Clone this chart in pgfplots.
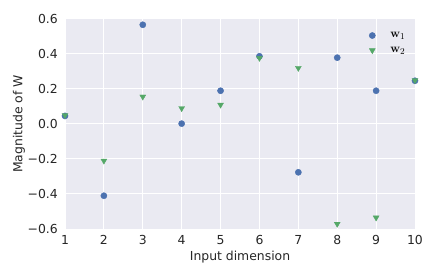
\documentclass[border=0pt]{standalone}
\usepackage[no-math]{fontspec}
\setmainfont{DejaVu Sans}
\usepackage{pgfplots}
\pgfplotsset{compat=1.18}
\definecolor{sbblue}{HTML}{4C72B0}
\definecolor{sbgreen}{HTML}{55A868}
\definecolor{sbbg}{HTML}{EAEAF2}
\definecolor{sbtext}{HTML}{262626}
\begin{document}
\begin{tikzpicture}
\useasboundingbox (-65pt,-49pt) rectangle (371pt,229pt);
\begin{axis}[
  at={(0pt,0pt)}, anchor=south west,
  scale only axis, width=350pt, height=210pt,
  xmin=1, xmax=10, ymin=-0.6, ymax=0.6,
  clip=true,
  axis background/.style={fill=sbbg},
  axis line style={draw=none},
  major tick length=0pt,
  grid=major, major grid style={white, line width=1pt},
  xtick={1,2,3,4,5,6,7,8,9,10},
  xticklabels={1,2,3,4,5,6,7,8,9,10},
  ytick={-0.6,-0.4,-0.2,0,0.2,0.4,0.6},
  yticklabels={−0.6,−0.4,−0.2,0.0,0.2,0.4,0.6},
  xticklabel style={anchor=north, inner sep=0pt, yshift=-6pt, font=\fontsize{12.4}{14}\selectfont, text=sbtext},
  yticklabel style={anchor=east, inner sep=0pt, xshift=-7pt, font=\fontsize{12.4}{14}\selectfont, text=sbtext},
  xlabel={Input dimension},
  ylabel={Magnitude of W},
  xlabel style={at={(axis description cs:0.5,-0.1333)}, anchor=center, font=\fontsize{12.4}{14}\selectfont, text=sbtext},
  ylabel style={at={(axis description cs:-0.1314,0.5)}, anchor=center, font=\fontsize{12.4}{14}\selectfont, text=sbtext},
  legend image code/.code={\path[draw=none,fill=none] (-4pt,-4pt) rectangle (16pt,4pt); \draw[#1] plot coordinates {(0pt,0pt)};},
  legend style={at={(axis description cs:0.866,0.948)}, anchor=north west, draw=none, fill=none, inner sep=0pt,
    font=\fontsize{12.4}{14}\selectfont, row sep=4pt},
  legend cell align=left,
]
\addplot[only marks, mark=*, mark size=3.1pt, color=sbblue, mark options={draw=sbblue, fill=sbblue}]
 coordinates {(1,0.046) (2,-0.41) (3,0.567) (4,0.002) (5,0.19) (6,0.387) (7,-0.276) (8,0.379) (9,0.19) (10,0.247)};
\addlegendentry{$\mathbf{w}_1$}
\addplot[only marks, mark=triangle*, mark size=3.4pt, color=sbgreen, mark options={rotate=180, draw=sbgreen, fill=sbgreen}]
 coordinates {(1,0.05) (2,-0.21) (3,0.156) (4,0.09) (5,0.11) (6,0.377) (7,0.32) (8,-0.571) (9,-0.535) (10,0.25)};
\addlegendentry{$\mathbf{w}_2$}
\end{axis}
\end{tikzpicture}
\end{document}
